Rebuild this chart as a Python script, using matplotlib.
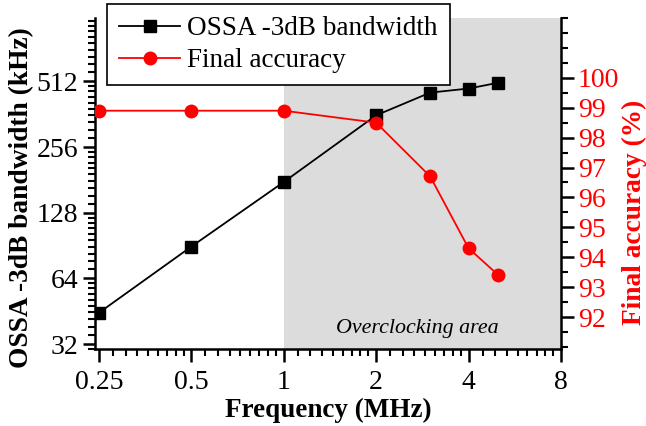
import matplotlib
matplotlib.use('Agg')
import matplotlib.pyplot as plt
import matplotlib.ticker as mticker
import numpy as np

freq = [0.25, 0.5, 1, 2, 3, 4, 5]
bandwidth = [44.5, 89.5, 177, 358, 455, 475, 505]
accuracy = [98.9, 98.9, 98.9, 98.5, 96.7, 94.3, 93.4]
x_ticks = [0.25, 0.5, 1, 2, 4, 8]
x_labels = ['0.25', '0.5', '1', '2', '4', '8']
bw_ticks = [32, 64, 128, 256, 512]
acc_ticks = [92, 93, 94, 95, 96, 97, 98, 99, 100]

plt.rcParams['font.family'] = ['Liberation Serif', 'DejaVu Serif']

fig = plt.figure(figsize=(6.46, 4.26), dpi=100)
ax = fig.add_axes([95/646, 1-349/426, 466/646, 331/426])
ax2 = ax.twinx()

ax.set_xscale('log', base=2)
ax.set_yscale('log', base=2)
ax.set_xlim(0.243, 8)
ax2.set_ylim(90.93, 102.0)

# overclocking area
ax.axvspan(1, 8, color='#dcdcdc', zorder=0, lw=0)
ax.text(2.72, 34.0, 'Overclocking area', style='italic', fontsize=15.8,
        ha='center', va='bottom')

l1, = ax.plot(freq, bandwidth, color='black', lw=1.3, marker='s',
              markersize=8, label='OSSA -3dB bandwidth', zorder=3)
l2, = ax2.plot(freq, accuracy, color='red', lw=1.3, marker='o',
               markersize=9, label='Final accuracy', zorder=3)

ax.set_xticks(x_ticks)
ax.set_xticklabels(x_labels)
xminor = [b * (1 + k / 9) for b in [0.25, 0.5, 1, 2, 4] for k in range(1, 9)]
ax.xaxis.set_minor_locator(mticker.FixedLocator(xminor))
ax.xaxis.set_minor_formatter(mticker.NullFormatter())

ax.set_yticks(bw_ticks)
ax.set_yticklabels([str(v) for v in bw_ticks])
yminor = [b * (1 + k / 10) for b in [16, 32, 64, 128, 256, 512] for k in range(1, 10)]
ax.yaxis.set_minor_locator(mticker.FixedLocator(yminor))
ax.yaxis.set_minor_formatter(mticker.NullFormatter())
ax.set_ylim(30.4, 1000)

ax2.set_yticks(acc_ticks)
ax2.yaxis.set_minor_locator(mticker.MultipleLocator(0.5))

for a in (ax, ax2):
    a.spines['top'].set_visible(False)
    for s in a.spines.values():
        s.set_linewidth(1.8)
    a.tick_params(which='major', direction='out', length=9, width=1.8, labelsize=20)
    a.tick_params(which='minor', direction='out', length=5, width=1.5)
ax.spines['right'].set_visible(False)
ax2.spines['left'].set_visible(False)
ax2.spines['bottom'].set_visible(False)
ax.tick_params(axis='y', pad=3)
ax.tick_params(axis='x', pad=6)
ax2.tick_params(axis='y', colors='red', pad=3)
ax2.tick_params(axis='y', which='both', color='black')

ax.set_xlabel('Frequency (MHz)', fontsize=19.5, fontweight='bold', labelpad=2)
ax.set_ylabel('OSSA -3dB bandwidth (kHz)', fontsize=19.7, fontweight='bold')
ax.yaxis.set_label_coords(-0.13, 0.456)
ax2.set_ylabel('Final accuracy (%)', fontsize=19.7, fontweight='bold', color='red')
ax2.yaxis.set_label_coords(1.131, 0.414)

leg = ax2.legend(handles=[l1, l2], loc='upper left', bbox_to_anchor=(0.026, 1.042),
                 borderaxespad=0, fontsize=19.5, frameon=True, fancybox=False,
                 framealpha=1, edgecolor='black', handlelength=2.25,
                 labelspacing=0.25, borderpad=0.45, handletextpad=0.26)
leg.get_frame().set_linewidth(1.2)
leg.set_zorder(10)

fig.savefig('out.png', dpi=100, facecolor='white')
